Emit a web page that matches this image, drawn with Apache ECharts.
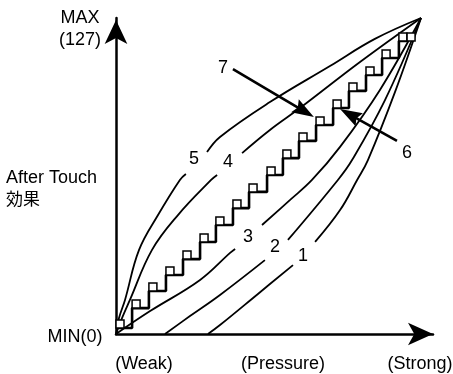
<!DOCTYPE html>
<html>
<head>
<meta charset="utf-8">
<script src="https://cdn.jsdelivr.net/npm/echarts@6/dist/echarts.min.js"></script>
<style>
  html, body { margin: 0; padding: 0; background: #fff; }
  #touch-chart { width: 453px; height: 374px; }
</style>
</head>
<body>
<div id="touch-chart"></div>
<script>
  // after touch curves, values 0..127 on both axes
  // each curve is cut in two where its number sits
  var curve1Low = [[38.3, 0], [43.3, 3.6], [59.1, 16.1], [73.7, 27.7]]
  var curve1High = [[82.9, 37.0], [93.3, 49.8], [100.4, 61.9], [104.9, 69.9], [116.2, 97.3], [127, 127]]
  var curve2Low = [[20.4, 0], [30.8, 7.2], [43.3, 15.7], [62.0, 29.7]]
  var curve2High = [[71.6, 37.8], [92.4, 61.9], [98.3, 69.9], [112.0, 94.0], [127, 127]]
  var curve3Low = [[0, 0], [14.2, 9.2], [35.0, 21.7], [47.5, 32.6], [49.6, 34.2]]
  var curve3High = [[60.8, 43.8], [72.5, 53.9], [81.6, 61.9], [93.3, 75.2], [109.9, 98.1], [127, 127]]
  var curve4Low = [[0, 0], [2.5, 6.4], [5.8, 13.7], [15.0, 33.8], [25.8, 47.8], [39.6, 61.9], [42.1, 63.9]]
  var curve4High = [[52.5, 72.7], [64.1, 82.0], [76.6, 90.8], [101.6, 109.3], [127, 127]]
  var curve5Low = [[0, 0], [1.25, 6.4], [3.75, 13.7], [9.6, 33.8], [17.5, 47.8], [26.6, 61.9], [29.1, 64.3]]
  var curve5High = [[37.9, 73.1], [43.3, 79.2], [64.1, 93.2], [89.1, 107.7], [107.8, 118.6], [127, 127]]

  // stepped curve (6 / 7)
  var stepX = [0, 6.7, 13.7, 20.8, 27.9, 35.0, 41.6, 48.7, 55.4, 62.9, 69.5, 76.2, 83.3, 90.4, 97.0, 104.1, 110.8, 117.8, 121.2]
  var stepY = [2.4, 10.4, 17.3, 23.7, 30.1, 37.0, 43.8, 50.6, 57.1, 63.9, 70.7, 77.6, 84.0, 90.8, 97.7, 104.1, 110.9, 117.8, 117.8]

  // pointer arrows: [fromX, fromY, toX, toY]
  var arrow7 = [48.7, 106.5, 82.4, 87.2]
  var arrow6 = [117.0, 77.6, 93.3, 90.4]

  var curveTags = ['1', '2', '3', '4', '5', '6', '7']
  var yTopText = ['MAX', '(127)']
  var yBottomText = 'MIN(0)'
  var yName = ['After Touch', '効果']
  var xTickText = ['(Weak)', '(Pressure)', '(Strong)']

  var font = '18px "Liberation Sans", Arial, sans-serif'
  var ink = '#000'

  function piece(data) {
    return {
      type: 'line',
      data: data,
      smooth: 0.4,
      symbol: 'none',
      silent: true,
      lineStyle: { color: ink, width: 1.8 }
    }
  }

  function text(str, x, y, align, f) {
    return {
      type: 'text',
      x: x,
      y: y,
      silent: true,
      style: {
        text: str,
        font: f || font,
        fill: ink,
        align: align || 'center',
        verticalAlign: 'middle'
      }
    }
  }

  var stepData = stepX.map(function (x, i) { return [x, stepY[i]] })

  // where the curve numbers sit (px)
  var tagPos = [[303, 256], [275, 247], [248, 237], [228, 162], [194, 159], [407, 153], [223, 68]]

  var graphics = [
    text(yTopText[0], 80, 18),
    text(yTopText[1], 80, 40),
    text(yName[0], 6, 178, 'left'),
    text(yName[1], 6, 199, 'left', '17px "Noto Sans CJK JP", sans-serif'),
    text(yBottomText, 75, 337),
    text(xTickText[0], 144, 364),
    text(xTickText[1], 283, 364),
    text(xTickText[2], 420, 364)
  ]
  curveTags.forEach(function (t, i) {
    graphics.push(text(t, tagPos[i][0], tagPos[i][1]))
  })

  var myChart = echarts.init(document.getElementById('touch-chart'))
  myChart.setOption({
    animation: false,
    grid: { left: 116, right: 20, top: 18, bottom: 40 },
    xAxis: {
      type: 'value',
      min: 0,
      max: 132,
      axisLine: {
        show: true,
        symbol: ['none', 'arrow'],
        symbolSize: [17, 25],
        lineStyle: { color: '#000', width: 2.5 }
      },
      axisTick: { show: false },
      axisLabel: { show: false },
      splitLine: { show: false }
    },
    yAxis: {
      type: 'value',
      min: 0,
      max: 127,
      axisLine: {
        show: true,
        symbol: ['none', 'arrow'],
        symbolSize: [17, 24],
        symbolOffset: [0, -2],
        lineStyle: { color: '#000', width: 2.5 }
      },
      axisTick: { show: false },
      axisLabel: { show: false },
      splitLine: { show: false }
    },
    graphic: graphics,
    series: [
      piece(curve1Low), piece(curve1High),
      piece(curve2Low), piece(curve2High),
      piece(curve3Low), piece(curve3High),
      piece(curve4Low), piece(curve4High),
      piece(curve5Low), piece(curve5High),
      {
        type: 'line',
        data: stepData,
        step: 'end',
        symbol: 'rect',
        symbolSize: 8,
        symbolOffset: [4, -4],
        showAllSymbol: true,
        silent: true,
        lineStyle: { color: '#000', width: 2.6 },
        itemStyle: { color: '#fff', borderColor: '#000', borderWidth: 1.5 },
        z: 3
      },
      {
        type: 'custom',
        data: [arrow7, arrow6],
        encode: { x: [0, 2], y: [1, 3] },
        silent: true,
        z: 4,
        renderItem: function (params, api) {
          var a = api.coord([api.value(0), api.value(1)])
          var b = api.coord([api.value(2), api.value(3)])
          var dx = b[0] - a[0], dy = b[1] - a[1]
          var len = Math.sqrt(dx * dx + dy * dy)
          var ux = dx / len, uy = dy / len
          var hl = 22, hw = 7.5
          var bx = b[0] - ux * hl, by = b[1] - uy * hl
          return {
            type: 'group',
            children: [
              {
                type: 'line',
                shape: { x1: a[0], y1: a[1], x2: bx + ux * 4, y2: by + uy * 4 },
                style: { stroke: '#000', lineWidth: 2.6 }
              },
              {
                type: 'polygon',
                shape: {
                  points: [
                    [b[0], b[1]],
                    [bx - uy * hw, by + ux * hw],
                    [b[0] - ux * hl * 0.85, b[1] - uy * hl * 0.85],
                    [bx + uy * hw, by - ux * hw]
                  ]
                },
                style: { fill: '#000' }
              }
            ]
          }
        }
      }
    ]
  })
</script>
</body>
</html>
